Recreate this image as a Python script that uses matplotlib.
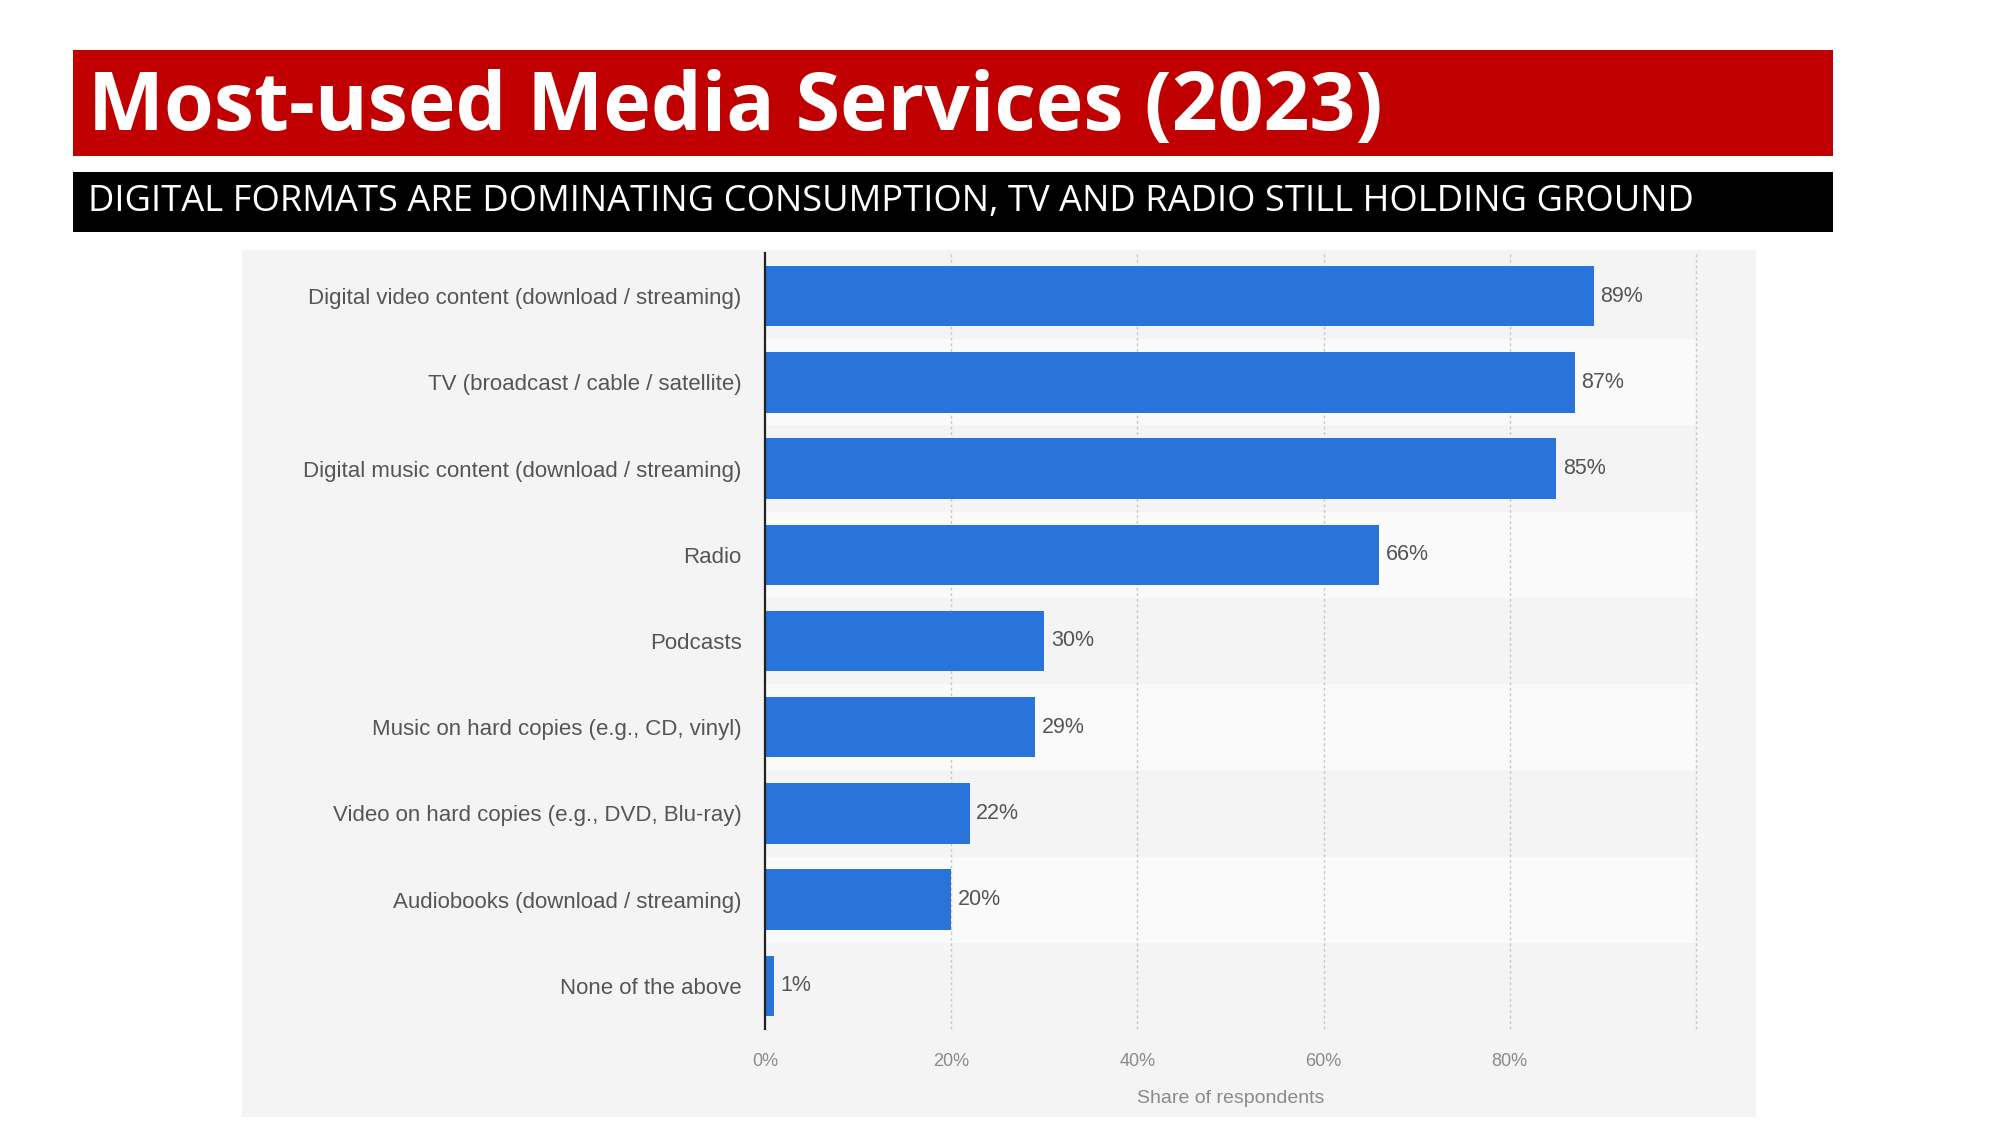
import numpy as np
import matplotlib.pyplot as plt
from matplotlib.patches import Rectangle

categories = [
    "Digital video content (download / streaming)",
    "TV (broadcast / cable / satellite)",
    "Digital music content (download / streaming)",
    "Radio",
    "Podcasts",
    "Music on hard copies (e.g., CD, vinyl)",
    "Video on hard copies (e.g., DVD, Blu-ray)",
    "Audiobooks (download / streaming)",
    "None of the above",
]
shares = [89, 87, 85, 66, 30, 29, 22, 20, 1]
xticks = [0, 20, 40, 60, 80]

title = "Most-used Media Services (2023)"
subtitle = "DIGITAL FORMATS ARE DOMINATING CONSUMPTION, TV AND RADIO STILL HOLDING GROUND"

fig = plt.figure(figsize=(20, 11.25), dpi=100)
fig.patch.set_facecolor("white")


def box(x0, y0, x1, y1, color):
    # pixel coords from top-left
    r = Rectangle((x0 / 2000, 1 - y1 / 1125), (x1 - x0) / 2000, (y1 - y0) / 1125,
                  transform=fig.transFigure, facecolor=color, edgecolor="none", zorder=-10)
    fig.patches.append(r)


# header banners
box(73, 50, 1833, 156, "#c00000")
box(73, 172, 1833, 232, "black")
fig.text(88 / 2000, 1 - 109 / 1125, title, color="white", fontsize=58, fontweight="bold",
         family="Open Sans", va="center", ha="left")
fig.text(88 / 2000, 1 - 202 / 1125, subtitle, color="white", fontsize=26.2,
         family="Open Sans", va="center", ha="left")

# grey chart panel
box(242, 250, 1756, 1117, "#f4f4f4")

ax = fig.add_axes([765 / 2000, 1 - 1029 / 1125, 931 / 2000, 776 / 1125])
ax.set_facecolor("none")

y = np.arange(len(categories))
for i in y:
    ax.axhspan(i - 0.5, i + 0.5, color="#f4f4f4" if i % 2 == 0 else "#fafafa", zorder=0, lw=0)

for xv in [20, 40, 60, 80, 100]:
    ax.axvline(xv, color="#c8c8c8", lw=1, ls=(0, (2, 2)), zorder=1, clip_on=False)

ax.barh(y, shares, height=0.7, color="#2874db", zorder=2)
for yi, v in zip(y, shares):
    ax.text(v + 0.7, yi, f"{v}%", va="center", ha="left", fontsize=15.5,
            color="#555555", family="Liberation Sans")

ax.set_xlim(0, 100)
ax.set_ylim(len(categories) - 0.5, -0.5)
ax.set_yticks(y)
ax.set_yticklabels(categories, fontsize=16, color="#555555", family="Liberation Sans")
ax.set_xticks(xticks)
ax.set_xticklabels([f"{t}%" for t in xticks], fontsize=13, color="#8a8a8a", family="Liberation Sans")
ax.tick_params(axis="both", length=0)
ax.tick_params(axis="y", pad=17)
ax.tick_params(axis="x", pad=17)
ax.set_xlabel("Share of respondents", fontsize=14, color="#8a8a8a", family="Liberation Sans",
              labelpad=15)

for s in ["top", "right", "bottom"]:
    ax.spines[s].set_visible(False)
ax.spines["left"].set_color("#222222")
ax.spines["left"].set_linewidth(1.6)
ax.spines["left"].set_zorder(3)

fig.savefig("out.png", dpi=100)
